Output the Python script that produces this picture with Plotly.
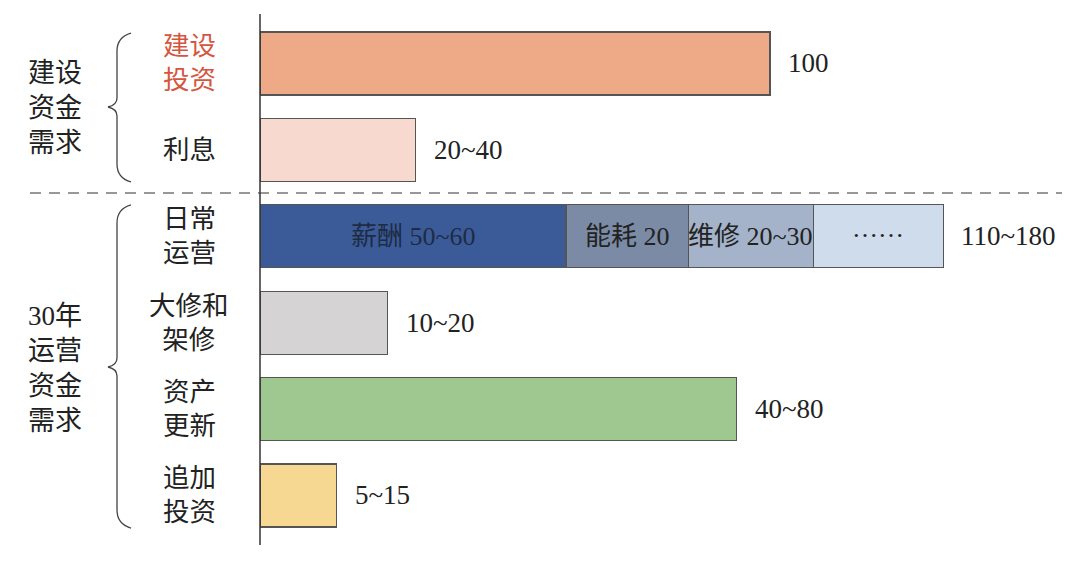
import plotly.graph_objects as go

# ---------------- data ----------------
categories = ["建设投资", "利息", "日常运营", "大修和架修", "资产更新", "追加投资"]
category_labels = ["建设<br>投资", "利息", "日常<br>运营", "大修和<br>架修", "资产<br>更新", "追加<br>投资"]
category_label_colors = ["#D6553F", "#222222", "#222222", "#222222", "#222222", "#222222"]

single_categories = ["建设投资", "利息", "大修和架修", "资产更新", "追加投资"]
single_values = [100, 30.5, 25, 93.5, 15]
single_colors = ["#EEA987", "#F8D9CF", "#D5D3D3", "#9FC891", "#F6D893"]

ops_category = "日常运营"
ops_segments = ["薪酬 50~60", "能耗 20", "维修 20~30", "……"]
ops_values = [60, 24, 24.5, 25.5]
ops_colors = ["#3B5B98", "#7B8BA5", "#A4B3C9", "#CFDCEC"]
ops_text_colors = ["#1E2B45", "#222222", "#222222", "#222222"]

end_labels = {"建设投资": "100", "利息": "20~40", "日常运营": "110~180",
              "大修和架修": "10~20", "资产更新": "40~80", "追加投资": "5~15"}

group_labels = ["建设<br>资金<br>需求", "30年<br>运营<br>资金<br>需求"]

# ---------------- layout helpers ----------------
W, H = 1080, 564
OFF = 8  # page body margin offset
FONT = "Liberation Serif, Noto Sans CJK SC, serif"
EDGE = "#555555"
PX_PER_UNIT = 5.1


def px(x):
    return (x - OFF) / W


def py(y):
    return (H - (y - OFF)) / H


fig = go.Figure()

fig.add_trace(go.Bar(
    y=single_categories, x=single_values, orientation="h",
    marker=dict(color=single_colors, line=dict(color=EDGE, width=1.2)),
    width=0.73, hoverinfo="skip", showlegend=False,
))
for name, val, col in zip(ops_segments, ops_values, ops_colors):
    fig.add_trace(go.Bar(
        y=[ops_category], x=[val], orientation="h", name=name,
        marker=dict(color=col, line=dict(color=EDGE, width=1.2)),
        width=0.73, hoverinfo="skip", showlegend=False,
    ))

annotations = []
# category labels
for cat, lab, col in zip(categories, category_labels, category_label_colors):
    annotations.append(dict(
        x=px(189), xref="paper", y=cat, yref="y", text=lab, showarrow=False,
        xanchor="center", yanchor="middle", align="center",
        font=dict(family=FONT, size=26.5, color=col),
    ))

# end labels
totals = {c: v for c, v in zip(single_categories, single_values)}
totals[ops_category] = sum(ops_values)
for cat in categories:
    annotations.append(dict(
        x=totals[cat], xref="x", y=cat, yref="y", text=end_labels[cat],
        showarrow=False, xanchor="left", yanchor="middle", xshift=16,
        font=dict(family=FONT, size=27, color="#222222"),
    ))

# inside labels of the stacked operations bar
base = 0
for name, val, tcol in zip(ops_segments, ops_values, ops_text_colors):
    is_dots = name.startswith("…")
    annotations.append(dict(
        x=base + val / 2, xref="x", y=ops_category, yref="y", text=name,
        showarrow=False, xanchor="center", yanchor="middle",
        yshift=8 if is_dots else 0,
        font=dict(family=FONT, size=26, color=tcol),
    ))
    base += val

# group labels
annotations.append(dict(
    x=px(55), xref="paper", y=py(108), yref="paper", text=group_labels[0],
    showarrow=False, xanchor="center", yanchor="middle", align="center",
    font=dict(family=FONT, size=27, color="#222222"),
))
annotations.append(dict(
    x=px(55), xref="paper", y=py(368), yref="paper", text=group_labels[1],
    showarrow=False, xanchor="center", yanchor="middle", align="center",
    font=dict(family=FONT, size=27, color="#222222"),
))


def brace(top, bottom, mid, xr=131, xv=117, xt=108):
    pts = [
        ("M", [(xr, top)]),
        ("Q", [(xv, top + 4), (xv, top + 18)]),
        ("L", [(xv, mid - 9)]),
        ("Q", [(xv, mid - 2), (xt, mid)]),
        ("Q", [(xv, mid + 2), (xv, mid + 9)]),
        ("L", [(xv, bottom - 18)]),
        ("Q", [(xv, bottom - 4), (xr, bottom)]),
    ]
    s = ""
    for cmd, ps in pts:
        s += cmd + " " + " ".join(f"{px(a):.5f},{py(b):.5f}" for a, b in ps) + " "
    return s.strip()


shapes = [
    # vertical axis line
    dict(type="line", xref="paper", yref="paper", x0=px(260), x1=px(260),
         y0=py(14), y1=py(545), line=dict(color="#333333", width=1.5)),
    # dashed separator
    dict(type="line", xref="paper", yref="paper", x0=px(30), x1=px(1062),
         y0=py(193), y1=py(193), line=dict(color="#333333", width=1.2, dash="11px,8px")),
    dict(type="path", xref="paper", yref="paper", path=brace(33, 182, 107),
         line=dict(color="#444444", width=1.3)),
    dict(type="path", xref="paper", yref="paper", path=brace(205, 528, 367),
         line=dict(color="#444444", width=1.3)),
]

fig.update_layout(
    width=W, height=H, barmode="stack",
    margin=dict(l=0, r=0, t=0, b=0),
    paper_bgcolor="white", plot_bgcolor="white",
    xaxis=dict(domain=[px(260), 1], range=[0, (W + OFF - 260) / PX_PER_UNIT], visible=False),
    yaxis=dict(domain=[py(538.7), py(20.3)], type="category",
               categoryorder="array", categoryarray=categories,
               range=[5.5, -0.5], visible=False),
    annotations=annotations, shapes=shapes,
    font=dict(family=FONT),
)

fig.write_html("out.html")
